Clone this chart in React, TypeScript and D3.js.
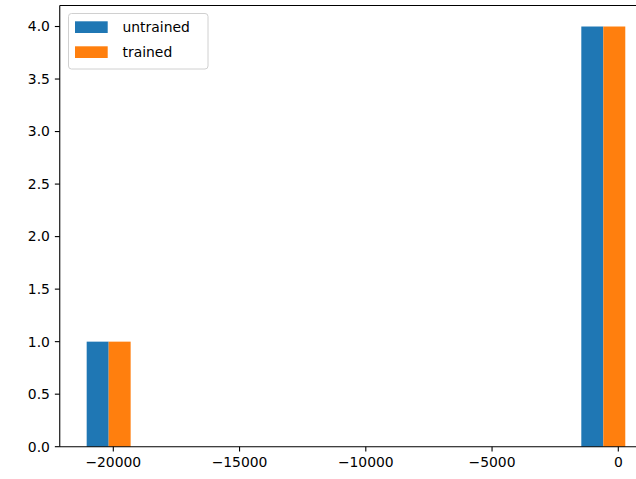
import React from "react";
import * as d3 from "d3";

const seriesNames = ["untrained", "trained"];
const seriesColors = ["#1f77b4", "#ff7f0e"];
const histMin = -21272;
const histMax = 494;
const untrainedCounts = [1, 0, 0, 0, 0, 0, 0, 0, 0, 4];
const trainedCounts = [1, 0, 0, 0, 0, 0, 0, 0, 0, 4];
const xTicks = [-20000, -15000, -10000, -5000, 0];
const yTicks = [0, 0.5, 1, 1.5, 2, 2.5, 3, 3.5, 4];

const W = 636;
const H = 479;
const FONT = "DejaVu Sans, sans-serif";
const FS = 13.9;

export default function App() {
  const nBins = untrainedCounts.length;
  const edges = d3.range(nBins + 1).map((i) => histMin + ((histMax - histMin) * i) / nBins);
  const bw = (histMax - histMin) / nBins;
  const barLeft = edges[0] + 0.1 * bw;
  const barRight = edges[nBins] - 0.1 * bw;
  const margin = (barRight - barLeft) * 0.05;

  const left = 59.75;
  const pxPerUnit = 126.25 / 5000;
  const domain: [number, number] = [barLeft - margin, barRight + margin];
  const x = d3
    .scaleLinear()
    .domain(domain)
    .range([left, left + (domain[1] - domain[0]) * pxPerUnit]);
  const yMax = d3.max([...untrainedCounts, ...trainedCounts])! * 1.05;
  const y = d3.scaleLinear().domain([0, yMax]).range([446.7, 5.5]);

  const series = [untrainedCounts, trainedCounts];
  const dw = (0.8 * bw) / series.length;

  const fmtY = d3.format(".1f");
  const fmtX = (v: number) => (v < 0 ? "\u2212" + Math.abs(v) : String(v));

  return (
    <svg width={W} height={H} style={{ position: "absolute", left: 0, top: 0, background: "#fff" }}>
      <rect x={0} y={0} width={W} height={H} fill="#fff" />
      {series.map((counts, si) =>
        counts.map((c, bi) => {
          if (c === 0) return null;
          const center = (edges[bi] + edges[bi + 1]) / 2;
          const x0 = center - 0.4 * bw + si * dw;
          return (
            <rect
              key={`${si}-${bi}`}
              x={x(x0)}
              y={y(c)}
              width={x(x0 + dw) - x(x0)}
              height={y(0) - y(c)}
              fill={seriesColors[si]}
            />
          );
        })
      )}
      {/* spines */}
      <g stroke="#000" strokeWidth={1.1} fill="none">
        <line x1={x.range()[0]} x2={x.range()[1]} y1={y(0)} y2={y(0)} />
        <line x1={x.range()[0]} x2={x.range()[1]} y1={y(yMax)} y2={y(yMax)} />
        <line x1={x.range()[0]} x2={x.range()[0]} y1={y(0)} y2={y(yMax)} />
        <line x1={x.range()[1]} x2={x.range()[1]} y1={y(0)} y2={y(yMax)} />
      </g>
      {xTicks.map((t) => (
        <g key={t}>
          <line x1={x(t)} x2={x(t)} y1={y(0)} y2={y(0) + 4.9} stroke="#000" strokeWidth={1.1} />
          <text
            x={x(t)}
            y={y(0) + 4.9 + 4.9}
            dy="0.76em"
            textAnchor="middle"
            fontFamily={FONT}
            fontSize={FS}
            fill="#000"
          >
            {fmtX(t)}
          </text>
        </g>
      ))}
      {yTicks.map((t) => (
        <g key={t}>
          <line x1={left - 4.9} x2={left} y1={y(t)} y2={y(t)} stroke="#000" strokeWidth={1.1} />
          <text
            x={left - 4.9 - 4.9}
            y={y(t)}
            dy="0.35em"
            textAnchor="end"
            fontFamily={FONT}
            fontSize={FS}
            fill="#000"
          >
            {fmtY(t)}
          </text>
        </g>
      ))}
      {/* legend */}
      <g>
        <rect
          x={68.5}
          y={13.5}
          width={139.5}
          height={55.5}
          rx={3}
          ry={3}
          fill="#fff"
          fillOpacity={0.8}
          stroke="#d0d0d0"
          strokeWidth={1}
        />
        {seriesNames.map((name, i) => (
          <g key={name}>
            <rect x={75} y={21.3 + i * 25} width={32.7} height={11.7} fill={seriesColors[i]} />
            <text
              x={122.5}
              y={27.2 + i * 25}
              dy="0.35em"
              fontFamily={FONT}
              fontSize={FS}
              fill="#000"
            >
              {name}
            </text>
          </g>
        ))}
      </g>
    </svg>
  );
}
